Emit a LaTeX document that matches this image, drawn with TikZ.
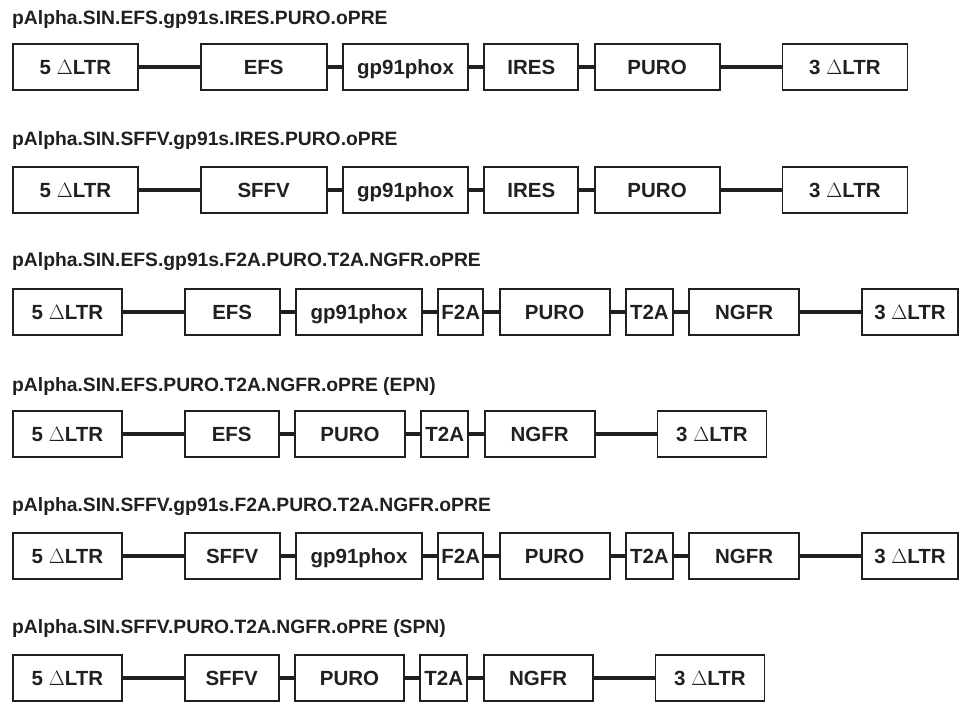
\documentclass[tikz,border=0pt]{standalone}
\usepackage{fontspec}
\setmainfont{Liberation Sans}
\usetikzlibrary{positioning}
\definecolor{ink}{HTML}{231F20}
\tikzset{
seg/.style={
  draw=ink, line width=1.8pt, text=ink,
  minimum height=46pt, inner sep=0pt, align=center,
  text height=14.5pt, text depth=0pt,
  font=\fontsize{20.5}{24}\selectfont\bfseries
  },
vname/.style={
  text=ink, inner sep=0pt, anchor=base west,
  font=\fontsize{19.3}{22}\selectfont\bfseries
  },
link/.style={draw=ink, line width=4pt}
}
\newcommand{\dltr}[1]{#1 $\Delta$LTR}

\begin{document}
\begin{tikzpicture}[x=1pt,y=-1pt,node distance=14.5pt]
\useasboundingbox (0,0) rectangle (959,702);

% vector 1
\node[seg, minimum width=125pt, anchor=north west] at (12,43) (V1-0){\dltr{5}};
\node[seg, minimum width=126pt, right=61pt of V1-0](V1-1){EFS};
\node[seg, minimum width=125pt, right=of V1-1](V1-2){gp91phox};
\node[seg, minimum width=94pt, right=of V1-2](V1-3){IRES};
\node[seg, minimum width=125pt, right=of V1-3](V1-4){PURO};
\node[seg, minimum width=125pt, right=61pt of V1-4](V1-5){\dltr{3}};
\node[vname, above=19pt of V1-0.north west, anchor=base west](V1t)
  {pAlpha.SIN.EFS.gp91s.IRES.PURO.oPRE};

\draw[link] (V1-0) -- (V1-1);
\draw[link] (V1-1) -- (V1-2);
\draw[link] (V1-2) -- (V1-3);
\draw[link] (V1-3) -- (V1-4);
\draw[link] (V1-4) -- (V1-5);

% vector 2
\node[seg, minimum width=125pt, anchor=north west] at (12,166) (V2-0){\dltr{5}};
\node[seg, minimum width=126pt, right=61pt of V2-0](V2-1){SFFV};
\node[seg, minimum width=125pt, right=of V2-1](V2-2){gp91phox};
\node[seg, minimum width=94pt, right=of V2-2](V2-3){IRES};
\node[seg, minimum width=125pt, right=of V2-3](V2-4){PURO};
\node[seg, minimum width=125pt, right=61pt of V2-4](V2-5){\dltr{3}};
\node[vname, above=21pt of V2-0.north west, anchor=base west](V2t)
  {pAlpha.SIN.SFFV.gp91s.IRES.PURO.oPRE};

\draw[link] (V2-0) -- (V2-1);
\draw[link] (V2-1) -- (V2-2);
\draw[link] (V2-2) -- (V2-3);
\draw[link] (V2-3) -- (V2-4);
\draw[link] (V2-4) -- (V2-5);

% vector 3
\node[seg, minimum width=109pt, anchor=north west] at (12,288) (V3-0){\dltr{5}};
\node[seg, minimum width=95pt, right=61pt of V3-0](V3-1){EFS};
\node[seg, minimum width=126pt, right=of V3-1](V3-2){gp91phox};
\node[seg, minimum width=45pt, right=of V3-2](V3-3){F2A};
\node[seg, minimum width=110pt, right=of V3-3](V3-4){PURO};
\node[seg, minimum width=47pt, right=of V3-4](V3-5){T2A};
\node[seg, minimum width=110pt, right=of V3-5](V3-6){NGFR};
\node[seg, minimum width=96pt, right=61pt of V3-6](V3-7){\dltr{3}};
\node[vname, above=22pt of V3-0.north west, anchor=base west](V3t)
  {pAlpha.SIN.EFS.gp91s.F2A.PURO.T2A.NGFR.oPRE};

\draw[link] (V3-0) -- (V3-1);
\draw[link] (V3-1) -- (V3-2);
\draw[link] (V3-2) -- (V3-3);
\draw[link] (V3-3) -- (V3-4);
\draw[link] (V3-4) -- (V3-5);
\draw[link] (V3-5) -- (V3-6);
\draw[link] (V3-6) -- (V3-7);

% vector 4
\node[seg, minimum width=109pt, anchor=north west] at (12,410) (V4-0){\dltr{5}};
\node[seg, minimum width=94pt, right=61pt of V4-0](V4-1){EFS};
\node[seg, minimum width=110pt, right=of V4-1](V4-2){PURO};
\node[seg, minimum width=47pt, right=of V4-2](V4-3){T2A};
\node[seg, minimum width=110pt, right=of V4-3](V4-4){NGFR};
\node[seg, minimum width=109pt, right=61pt of V4-4](V4-5){\dltr{3}};
\node[vname, above=19pt of V4-0.north west, anchor=base west](V4t)
  {pAlpha.SIN.EFS.PURO.T2A.NGFR.oPRE (EPN)};

\draw[link] (V4-0) -- (V4-1);
\draw[link] (V4-1) -- (V4-2);
\draw[link] (V4-2) -- (V4-3);
\draw[link] (V4-3) -- (V4-4);
\draw[link] (V4-4) -- (V4-5);

% vector 5
\node[seg, minimum width=109pt, anchor=north west] at (12,532) (V5-0){\dltr{5}};
\node[seg, minimum width=95pt, right=61pt of V5-0](V5-1){SFFV};
\node[seg, minimum width=126pt, right=of V5-1](V5-2){gp91phox};
\node[seg, minimum width=45pt, right=of V5-2](V5-3){F2A};
\node[seg, minimum width=110pt, right=of V5-3](V5-4){PURO};
\node[seg, minimum width=47pt, right=of V5-4](V5-5){T2A};
\node[seg, minimum width=110pt, right=of V5-5](V5-6){NGFR};
\node[seg, minimum width=96pt, right=61pt of V5-6](V5-7){\dltr{3}};
\node[vname, above=21pt of V5-0.north west, anchor=base west](V5t)
  {pAlpha.SIN.SFFV.gp91s.F2A.PURO.T2A.NGFR.oPRE};

\draw[link] (V5-0) -- (V5-1);
\draw[link] (V5-1) -- (V5-2);
\draw[link] (V5-2) -- (V5-3);
\draw[link] (V5-3) -- (V5-4);
\draw[link] (V5-4) -- (V5-5);
\draw[link] (V5-5) -- (V5-6);
\draw[link] (V5-6) -- (V5-7);

% vector 6
\node[seg, minimum width=109pt, anchor=north west] at (12,654) (V6-0){\dltr{5}};
\node[seg, minimum width=94pt, right=61pt of V6-0](V6-1){SFFV};
\node[seg, minimum width=109pt, right=of V6-1](V6-2){PURO};
\node[seg, minimum width=47pt, right=of V6-2](V6-3){T2A};
\node[seg, minimum width=109pt, right=of V6-3](V6-4){NGFR};
\node[seg, minimum width=109pt, right=61pt of V6-4](V6-5){\dltr{3}};
\node[vname, above=21pt of V6-0.north west, anchor=base west](V6t)
  {pAlpha.SIN.SFFV.PURO.T2A.NGFR.oPRE (SPN)};

\draw[link] (V6-0) -- (V6-1);
\draw[link] (V6-1) -- (V6-2);
\draw[link] (V6-2) -- (V6-3);
\draw[link] (V6-3) -- (V6-4);
\draw[link] (V6-4) -- (V6-5);

\end{tikzpicture}
\end{document}
